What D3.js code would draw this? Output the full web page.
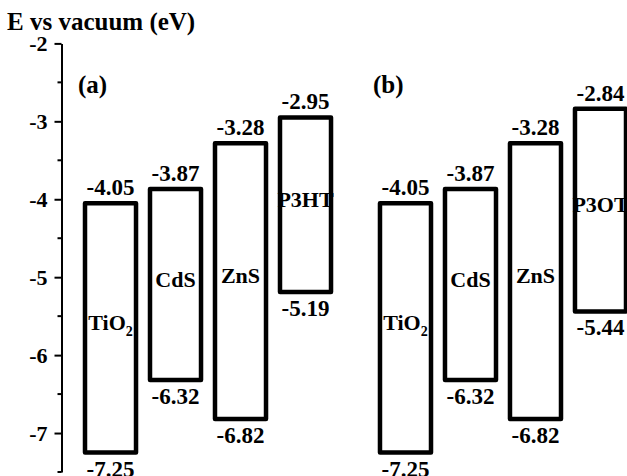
<!DOCTYPE html>
<html>
<head>
<meta charset="utf-8">
<script src="https://cdn.jsdelivr.net/npm/d3@7"></script>
<style>
  html, body { margin: 0; padding: 0; background: #fff; }
  svg { display: block; }
  text { font-family: "Liberation Serif", "Times New Roman", serif; font-weight: bold; fill: #000; }
</style>
</head>
<body>
<svg id="chart" width="627" height="476"></svg>
<script>
const panels = ["(a)", "(b)"];
const materialsA = ["TiO_2", "CdS", "ZnS", "P3HT"];
const materialsB = ["TiO_2", "CdS", "ZnS", "P3OT"];
const conductionA = [-4.05, -3.87, -3.28, -2.95];
const valenceA = [-7.25, -6.32, -6.82, -5.19];
const conductionB = [-4.05, -3.87, -3.28, -2.84];
const valenceB = [-7.25, -6.32, -6.82, -5.44];
const majorTicks = [-7, -6, -5, -4, -3, -2];
const minorTicks = [-7.5, -6.5, -5.5, -4.5, -3.5, -2.5];
const yDomain = [-7.5, -2];
const yLabel = "E vs vacuum (eV)";

const panelData = [
  { key: panels[0], names: materialsA, cb: conductionA, vb: valenceA },
  { key: panels[1], names: materialsB, cb: conductionB, vb: valenceB },
].map((p) => ({
  ...p,
  boxes: p.names.map((name, i) => ({ name, top: p.cb[i], bottom: p.vb[i] })),
}));

const svg = d3.select("#chart");
const axisX = 61.5;

const y = d3.scaleLinear().domain(yDomain).range([472, 43.4]);

const xPanel = d3.scaleBand().domain(panels).range([85, 626]).paddingInner(0.166);
const xBox = d3.scaleBand().range([0, xPanel.bandwidth()]).paddingInner(0.215);

// axis
const gy = svg.append("g").attr("transform", `translate(${axisX},0)`);
gy.call(
  d3.axisLeft(y).tickValues(majorTicks).tickSize(7).tickSizeOuter(0).tickPadding(7)
    .tickFormat((d) => String(d))
);
gy.select(".domain").attr("stroke-width", 2);
gy.selectAll(".tick line").attr("stroke-width", 2);
gy.selectAll(".tick text")
  .attr("font-family", null)
  .attr("font-size", null)
  .style("font-size", "22px");

gy.selectAll("line.minor")
  .data(minorTicks)
  .join("line")
  .attr("class", "minor")
  .attr("x1", -4)
  .attr("x2", 0)
  .attr("y1", (d) => y(d))
  .attr("y2", (d) => y(d))
  .attr("stroke", "#000")
  .attr("stroke-width", 2);

svg.append("text")
  .attr("x", 7)
  .attr("y", 30)
  .style("font-size", "25px")
  .text(yLabel);

function addName(sel, name) {
  const [base, sub] = name.split("_");
  sel.append("tspan").text(base);
  if (sub) {
    sel.append("tspan").attr("dy", 6).style("font-size", "14px").text(sub);
  }
}

const gPanels = svg.selectAll("g.panel")
  .data(panelData)
  .join("g")
  .attr("class", "panel")
  .attr("transform", (d) => `translate(${xPanel(d.key)},0)`);

gPanels.append("text")
  .attr("x", -7)
  .attr("y", 93)
  .style("font-size", "25px")
  .text((d) => d.key);

gPanels.each(function (p) {
  const g = d3.select(this);
  xBox.domain(p.names);
  const w = xBox.bandwidth();

  const box = g.selectAll("g.box")
    .data(p.boxes)
    .join("g")
    .attr("class", "box")
    .attr("transform", (d) => `translate(${xBox(d.name)},0)`);

  box.append("rect")
    .attr("x", 0)
    .attr("width", w)
    .attr("y", (d) => y(d.top))
    .attr("height", (d) => y(d.bottom) - y(d.top))
    .attr("fill", "none")
    .attr("stroke", "#000")
    .attr("stroke-width", 4.5)
    .attr("stroke-linejoin", "round");

  box.append("text")
    .attr("x", w / 2)
    .attr("y", (d) => y(d.top) - 8)
    .attr("text-anchor", "middle")
    .style("font-size", "23px")
    .text((d) => d.top.toFixed(2));

  box.append("text")
    .attr("x", w / 2)
    .attr("y", (d) => y(d.bottom) + 24)
    .attr("text-anchor", "middle")
    .style("font-size", "23px")
    .text((d) => d.bottom.toFixed(2));

  box.append("text")
    .attr("x", w / 2)
    .attr("y", (d) => y((d.top + d.bottom) / 2) + 2)
    .attr("text-anchor", "middle")
    .style("font-size", "22px")
    .each(function (d) { addName(d3.select(this), d.name); });
});
</script>
</body>
</html>
